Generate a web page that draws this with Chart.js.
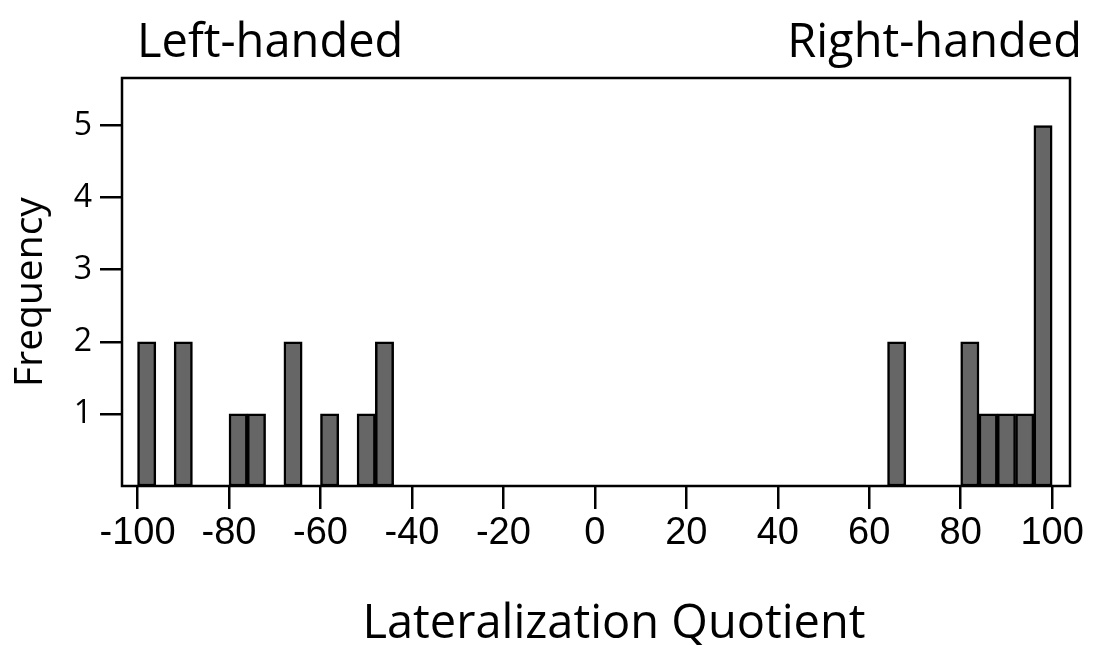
<!DOCTYPE html>
<html>
<head>
<meta charset="utf-8">
<script src="https://cdn.jsdelivr.net/npm/chart.js@4.4.1/dist/chart.umd.min.js"></script>
<style>
  html, body { margin: 0; padding: 0; background: #fff; }
  #wrap { width: 1101px; height: 645px; }
</style>
</head>
<body>
<div id="wrap"><canvas id="histChart" width="1101" height="645"></canvas></div>
<script>
// histogram bins (left edge), bin width 4
const binStarts = [-100, -92, -80, -76, -68, -60, -52, -48, 64, 80, 84, 88, 92, 96];
const counts = [2, 2, 1, 1, 2, 1, 1, 2, 2, 2, 1, 1, 1, 5];
const binWidth = 4;
const xTicks = [-100, -80, -60, -40, -20, 0, 20, 40, 60, 80, 100];
const yTicks = [1, 2, 3, 4, 5];

const titleFont = '"Open Sans", "Noto Sans", sans-serif';

var boxAndLabels = {
  id: 'boxAndLabels',
  afterDraw(chart) {
    var ctx = chart.ctx;
    var a = chart.chartArea;
    ctx.save();
    ctx.strokeStyle = '#000';
    ctx.lineWidth = 2.5;
    ctx.strokeRect(a.left, a.top, a.right - a.left, a.bottom - a.top);

    ctx.fillStyle = '#000';
    ctx.textBaseline = 'alphabetic';
    ctx.font = '47px ' + titleFont;
    ctx.textAlign = 'left';
    ctx.fillText('Left-handed', 137, 57);
    ctx.textAlign = 'right';
    ctx.fillText('Right-handed', 1082, 57);

    ctx.textAlign = 'center';
    ctx.fillText('Lateralization Quotient', 614, 638);

    ctx.font = '39px ' + titleFont;
    ctx.translate(42, 292);
    ctx.rotate(-Math.PI / 2);
    ctx.fillText('Frequency', 0, 0);
    ctx.restore();
  }
};

var ctx = document.getElementById('histChart');
var histChart = new Chart(ctx, {
  type: 'bar',
  data: {
    datasets: [{
      label: 'Frequency',
      data: binStarts.map((s, i) => ({ x: s + binWidth / 2, y: counts[i] })),
      backgroundColor: '#666666',
      borderColor: '#000000',
      borderWidth: 2.5,
      borderSkipped: false,
      barPercentage: 1,
      categoryPercentage: 1
    }]
  },
  options: {
    responsive: false,
    animation: false,
    events: [],
    layout: { padding: { left: 0, top: 78, right: 31, bottom: 0 } },
    plugins: {
      legend: { display: false },
      tooltip: { enabled: false }
    },
    scales: {
      x: {
        type: 'linear',
        min: -103.4,
        max: 103.9,
        offset: false,
        afterBuildTicks: (scale) => { scale.ticks = xTicks.map(v => ({ value: v })); },
        afterFit: (scale) => { scale.height = 159; },
        grid: { offset: false, drawOnChartArea: false, drawTicks: true, tickLength: 23, color: '#000', lineWidth: 2.5 },
        border: { display: false },
        ticks: {
          color: '#000',
          padding: 2,
          maxRotation: 0,
          autoSkip: false,
          font: { family: '"Liberation Sans", Arial, sans-serif', size: 38 }
        }
      },
      y: {
        min: 0,
        max: 5.66,
        afterBuildTicks: (scale) => { scale.ticks = yTicks.map(v => ({ value: v })); },
        afterFit: (scale) => { scale.width = 122; },
        grid: { drawOnChartArea: false, drawTicks: true, tickLength: 22, color: '#000', lineWidth: 2.5 },
        border: { display: false },
        ticks: {
          color: '#000',
          padding: 8,
          font: { family: titleFont, size: 32 }
        }
      }
    }
  },
  plugins: [boxAndLabels]
});
</script>
</body>
</html>
